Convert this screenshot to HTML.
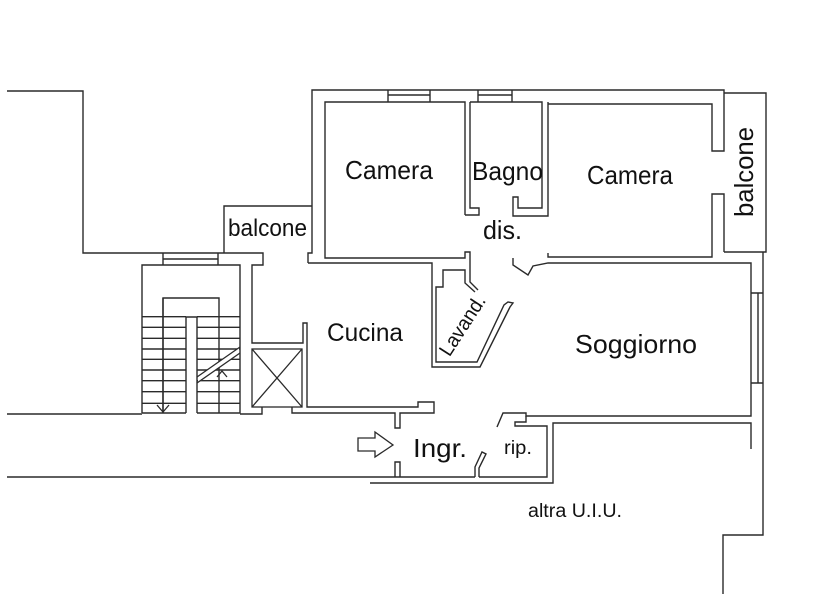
<!DOCTYPE html>
<html>
<head>
<meta charset="utf-8">
<style>
html,body{margin:0;padding:0;background:#fff;}
svg{display:block;}
text{font-family:"Liberation Sans",sans-serif;fill:#111;}
</style>
</head>
<body>
<svg width="819" height="594" viewBox="0 0 819 594" xmlns="http://www.w3.org/2000/svg">
<rect width="819" height="594" fill="#fff"/>
<g fill="none" stroke="#2a2a2a" stroke-width="1.4" stroke-linejoin="miter">
  <path d="M7,91 H83 V253 H263 V265 H252 V343 H303 V323 H307 V407 H418 V402 H434 V413 H400 V428 H395 V413 H292 V407"/>
  <path d="M163,253 V265 M218,253 V265 M163,259 H218"/>
  <path d="M224,253 V206 H312"/>
  <path d="M308,263 V253 H312 V90 H724 V151 H712 V104 H548"/>
  <path d="M388,90 V102 M430,90 V102 M388,95 H430 M478,90 V102 M512,90 V102 M478,95 H512"/>
  <path d="M465,215 V102 H325 V258 H465 V252 H470 V282 L478,290"/>
  <path d="M470,102 V208 H479 V215 H465"/>
  <path d="M470,102 H542 V208 H518 V197 H513 V216 H548 V102"/>
  <path d="M548,253 V257 H712 V194 H724 V252"/>
  <path d="M724,93 H766 V252 H724"/>
  <path d="M308,263 H432 V367 H480 L510,307 L513,303 L508,302 L504,305 L477,362 H436 V287 H443 V270 H465 V283 L475,292"/>
  <path d="M513,258 V265 L528,275 L533,266 L548,263 H751 V416 H526 V413 H503 L497,427"/>
  <path d="M763,252 V535 H723 V594"/>
  <path d="M751,293 H763 M751,383 H763 M758,293 V383"/>
  <path d="M526,416 V422 H515 V426 H547 V477 H479"/>
  <path d="M370,483 H553 V423 H751 V449"/>
  <path d="M7,414 H142"/>
  <path d="M7,477 H475"/>
  <path d="M395,477 V462 H400 V477"/>
  <path d="M475,477 V467 L482,452 L486,454 L479,468 V477"/>
  <path d="M142,413 V265 H240 V413 H197 M186,413 H142"/>
  <path d="M240,414 H262 V407"/>
  <path d="M163,413 V298 H219 V413"/>
  <path d="M186,413 V317 H197 V413"/>
  <path d="M142,316.7 H186 M197,316.7 H240
           M142,327.3 H186 M197,327.3 H240
           M142,338.3 H186 M197,338.3 H240
           M142,349 H186 M197,349 H240
           M142,359.3 H186 M197,359.3 H240
           M142,370 H186 M197,370 H240
           M142,380.7 H186 M197,380.7 H240
           M142,391.7 H186 M197,391.7 H240
           M142,403.3 H186 M197,403.3 H240"/>
  <path d="M163,298 V413"/>
</g>
<polygon points="198,377 239,348 239,353 198,383" fill="#fff" stroke="none"/>
<g fill="none" stroke="#2a2a2a" stroke-width="1.3">
  <path d="M197,377 L240,347 M197,383 L240,353"/>
  <path d="M157,405 L163,412 L169,405"/>
  <path d="M217,377 L222,371 L227,377"/>
  <rect x="252" y="349" width="50" height="58"/>
  <path d="M252,349 L302,407 M302,349 L252,407"/>
  <path d="M358,438 H375 V432 L393,445 L375,457 V451 H358 Z" fill="#fff"/>
</g>
<text x="228" y="236" font-size="24" textLength="79" lengthAdjust="spacingAndGlyphs">balcone</text>
<text x="345" y="179" font-size="26" textLength="88" lengthAdjust="spacingAndGlyphs">Camera</text>
<text x="472" y="180" font-size="26" textLength="71" lengthAdjust="spacingAndGlyphs">Bagno</text>
<text x="587" y="184" font-size="26" textLength="86" lengthAdjust="spacingAndGlyphs">Camera</text>
<text x="483" y="239" font-size="26" textLength="39" lengthAdjust="spacingAndGlyphs">dis.</text>
<text transform="translate(753,217) rotate(-90)" x="0" y="0" font-size="26" textLength="90" lengthAdjust="spacingAndGlyphs">balcone</text>
<text x="327" y="341" font-size="25" textLength="76" lengthAdjust="spacingAndGlyphs">Cucina</text>
<text transform="translate(468,329) rotate(-57)" x="0" y="0" font-size="20" text-anchor="middle" textLength="68" lengthAdjust="spacingAndGlyphs">Lavand.</text>
<text x="575" y="353" font-size="26" textLength="122" lengthAdjust="spacingAndGlyphs">Soggiorno</text>
<text x="413" y="457" font-size="26" textLength="54" lengthAdjust="spacingAndGlyphs">Ingr.</text>
<text x="504" y="454" font-size="19" textLength="28" lengthAdjust="spacingAndGlyphs">rip.</text>
<text x="528" y="517" font-size="19" textLength="94" lengthAdjust="spacingAndGlyphs">altra U.I.U.</text>
</svg>
</body>
</html>
